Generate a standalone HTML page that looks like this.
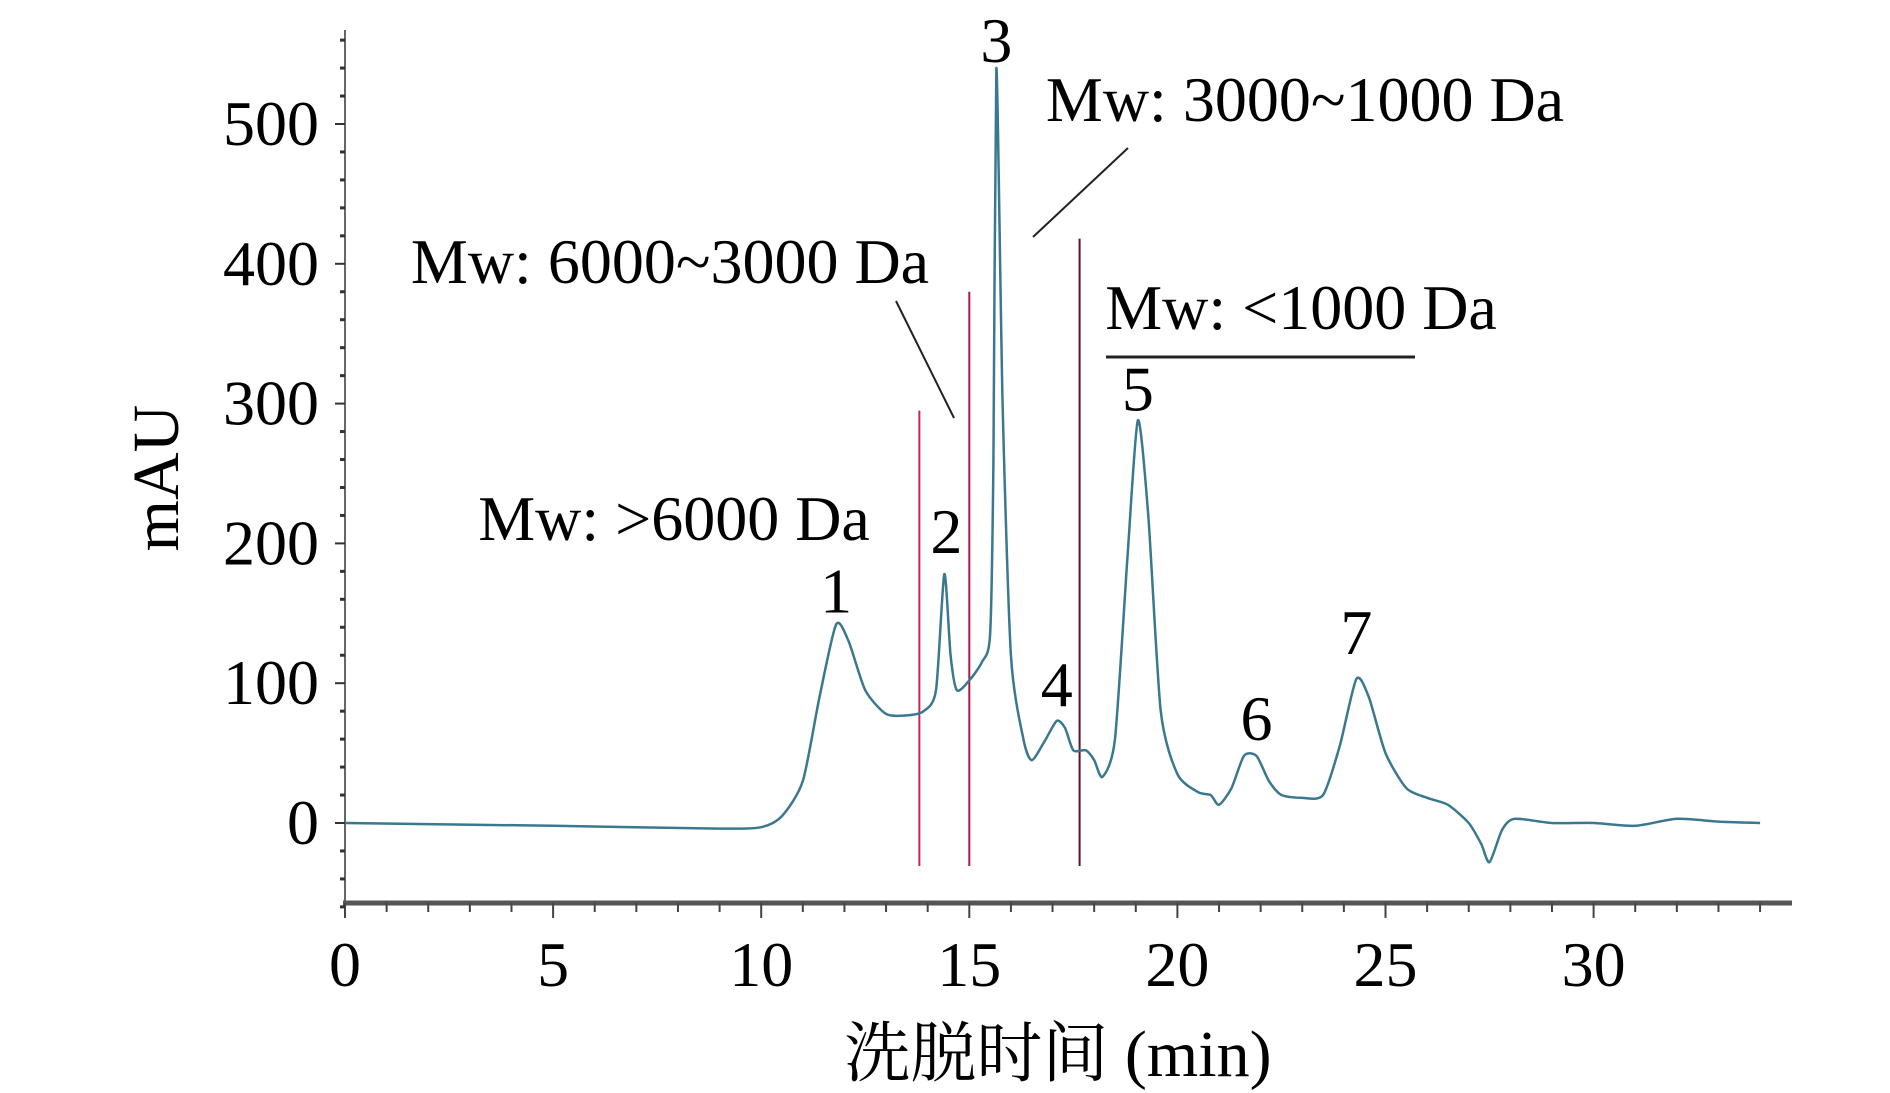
<!DOCTYPE html>
<html><head><meta charset="utf-8"><style>
html,body{margin:0;padding:0;background:#fff;}
svg{display:block;}
text{font-family:"Liberation Serif","Noto Serif CJK SC",serif;fill:#000;}
</style></head><body>
<svg id="chart" width="1890" height="1093" viewBox="0 0 1890 1093">
<g id="axes"></g>
<g id="plot"></g>
<g id="annot"></g>
</svg>
<script>
const xTicks=[0,5,10,15,20,25,30];
const yTicks=[0,100,200,300,400,500];
const times=[0,5,9,10,10.5,11,11.4,11.8,12.1,12.5,13,13.5,13.9,14.2,14.4,14.55,14.7,15,15.3,15.5,15.58,15.65,15.8,16.0,16.3,16.5,16.8,17.1,17.3,17.5,17.8,18.0,18.2,18.5,18.8,19.05,19.3,19.6,20,20.5,20.8,21.0,21.3,21.6,21.9,22.2,22.5,23.0,23.5,23.9,24.3,24.6,25.0,25.5,26.0,26.5,27.0,27.3,27.5,27.8,28.1,29,30,31,32,33,34];
const signal=[0,-2,-4,-3,5,30,90,142,130,95,78,77,80,95,178,120,95,102,115,135,260,540,300,120,60,45,58,73,68,52,52,45,33,60,190,288,220,80,35,22,20,13,25,48,48,30,20,18,20,55,103,90,50,25,18,13,0,-15,-28,-5,3,0,0,-2,3,1,0];
const peakLabels=["1","2","3","4","5","6","7"];
const peakTimes=[11.8,14.4,15.65,17.1,19.05,21.9,24.3];
const peakValues=[142,178,540,73,288,48,103];
const cutTimes=[13.8,15.0,17.65];
const cutTops=[295,380,418];

const NS="http://www.w3.org/2000/svg";
const X0=345,PX=41.62,Y0=823,PY=139.8/100;
const sx=t=>X0+t*PX, sy=v=>Y0-v*PY;
function mk(tag,attrs,parent){const e=document.createElementNS(NS,tag);for(const k in attrs)e.setAttribute(k,attrs[k]);parent.appendChild(e);return e;}
const axes=document.getElementById('axes'),plot=document.getElementById('plot'),annot=document.getElementById('annot');

let e=mk('line',{x1:X0,y1:30,x2:X0,y2:903,stroke:'#666','stroke-width':2},axes);


e=mk('line',{x1:X0-2,y1:903,x2:1792,y2:903,stroke:'#555','stroke-width':5},axes);


for(let t=0;t<=34;t++){
  const major=t%5===0;
  mk('line',{x1:sx(t),y1:903,x2:sx(t),y2:major?918:912,stroke:'#444','stroke-width':2},axes);
}
for(const t of xTicks){
  e=mk('text',{x:sx(t),y:986,'font-size':64,'text-anchor':'middle'},axes);
  e.textContent=t;
  
  
}
for(let v=-60;v<=560;v+=20){
  const major=v%100===0;
  mk('line',{x1:major?X0-10:X0-5,y1:sy(v),x2:X0,y2:sy(v),stroke:'#333','stroke-width':major?2:3},axes);
}
for(const v of yTicks){
  e=mk('text',{x:319,y:sy(v)+21,'font-size':64,'text-anchor':'end'},axes);
  e.textContent=v;
  
  
}
e=mk('text',{x:0,y:0,'font-size':66,'text-anchor':'middle',transform:'translate(178,478) rotate(-90)'},axes);
e.textContent='mAU';


e=mk('text',{x:1058,y:1076,'font-size':66,'text-anchor':'middle'},axes);
e.textContent='洗脱时间 (min)';



const cutColors=['#d0205a','#b01848','#601028'];
cutTimes.forEach((t,i)=>{
  const el=mk('line',{x1:sx(t),y1:sy(cutTops[i]),x2:sx(t),y2:866,stroke:cutColors[i],'stroke-width':2},plot);
  
  
});

const pts=times.map((t,i)=>[sx(t),sy(signal[i])]);
let d='M'+pts[0][0]+','+pts[0][1];
for(let i=0;i<pts.length-1;i++){
  const p0=pts[i-1]||pts[i],p1=pts[i],p2=pts[i+1],p3=pts[i+2]||p2;
  const k=0.12;
  d+=' C'+(p1[0]+(p2[0]-p0[0])*k)+','+(p1[1]+(p2[1]-p0[1])*k)+' '+(p2[0]-(p3[0]-p1[0])*k)+','+(p2[1]-(p3[1]-p1[1])*k)+' '+p2[0]+','+p2[1];
}
e=mk('path',{d:d,fill:'none',stroke:'#3a7890','stroke-width':2.5},plot);



const lblOff=[-12,-21,0,-15,-10,-16,-25];
peakLabels.forEach((s,i)=>{
  const y=i===2?62:sy(peakValues[i])+lblOff[i];
  const el=mk('text',{x:sx(peakTimes[i])+(i===1?2:0),y:y,'font-size':64,'text-anchor':'middle'},annot);
  el.textContent=s;
  
  
});

const texts=[['Mw: >6000 Da',674,540,'mw-gt-6000-label'],['Mw: 6000~3000 Da',670,283,'mw-6000-3000-label'],['Mw: 3000~1000 Da',1305,121,'mw-3000-1000-label'],['Mw: <1000 Da',1301,329,'mw-lt-1000-label']];
for(const tx of texts){
  e=mk('text',{x:tx[1],y:tx[2],'font-size':64,'text-anchor':'middle'},annot);
  e.textContent=tx[0];
  
  
}
e=mk('line',{x1:896,y1:301,x2:954,y2:418,stroke:'#222','stroke-width':2},annot);


e=mk('line',{x1:1128,y1:148,x2:1033,y2:237,stroke:'#222','stroke-width':2},annot);


e=mk('line',{x1:1106,y1:357,x2:1415,y2:357,stroke:'#222','stroke-width':3},annot);


</script>
</body></html>
